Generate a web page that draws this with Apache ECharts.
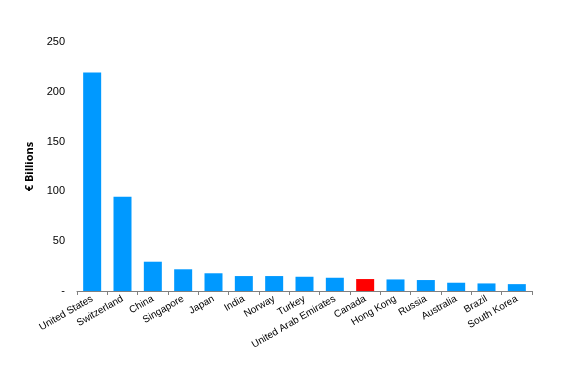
<!DOCTYPE html>
<html lang="en">
<head>
    <meta charset="UTF-8">
    <title>Chart</title>
    <script src="https://cdn.jsdelivr.net/npm/echarts@6/dist/echarts.min.js"></script>
    <style>
        html, body{
            margin: 0;
            padding: 0;
            background: #fff;
        }
        #main{
            width: 582px;
            height: 377px;
        }
    </style>
</head>
<body>
<div id="main"></div>
<script>
    var countries = ['United States', 'Switzerland', 'China', 'Singapore', 'Japan', 'India', 'Norway', 'Turkey',
        'United Arab Emirates', 'Canada', 'Hong Kong', 'Russia', 'Australia', 'Brazil', 'South Korea'];
    var values = [219.5, 94.6, 29.4, 21.8, 17.8, 15, 15, 14.3, 13.3, 12, 11.6, 11, 8.3, 7.6, 6.9];
    var highlight = 'Canada';

    var chart = echarts.init(document.getElementById('main'));
    var font = '"Liberation Sans Narrow", "Liberation Sans", Arial, sans-serif';

    chart.setOption({
        animation: false,
        grid: {
            left: 77,
            right: 50,
            top: 42,
            bottom: 86
        },
        xAxis: {
            type: 'category',
            data: countries,
            axisLine: {lineStyle: {color: '#808080', width: 1}},
            axisTick: {show: true, length: 4, lineStyle: {color: '#808080'}},
            axisLabel: {
                rotate: 30,
                interval: 0,
                margin: 7,
                color: '#000',
                fontSize: 10,
                fontFamily: font
            }
        },
        yAxis: {
            type: 'value',
            min: 0,
            max: 250,
            interval: 50,
            name: '€ Billions',
            nameLocation: 'middle',
            nameGap: 41,
            nameTextStyle: {
                color: '#000',
                fontSize: 11,
                fontWeight: 'bold',
                fontFamily: '"Open Sans", "DejaVu Sans", sans-serif'
            },
            axisLine: {show: false},
            axisTick: {show: false},
            splitLine: {show: false},
            axisLabel: {
                color: '#000',
                fontSize: 11,
                margin: 12,
                fontFamily: font,
                formatter: function (v) {
                    return v === 0 ? '-' : v;
                }
            }
        },
        series: [{
            type: 'bar',
            barWidth: 18,
            data: values.map(function (v, i) {
                return {
                    value: v,
                    itemStyle: {color: countries[i] === highlight ? '#ff0000' : '#0099ff'}
                };
            })
        }]
    });
</script>
</body>
</html>
